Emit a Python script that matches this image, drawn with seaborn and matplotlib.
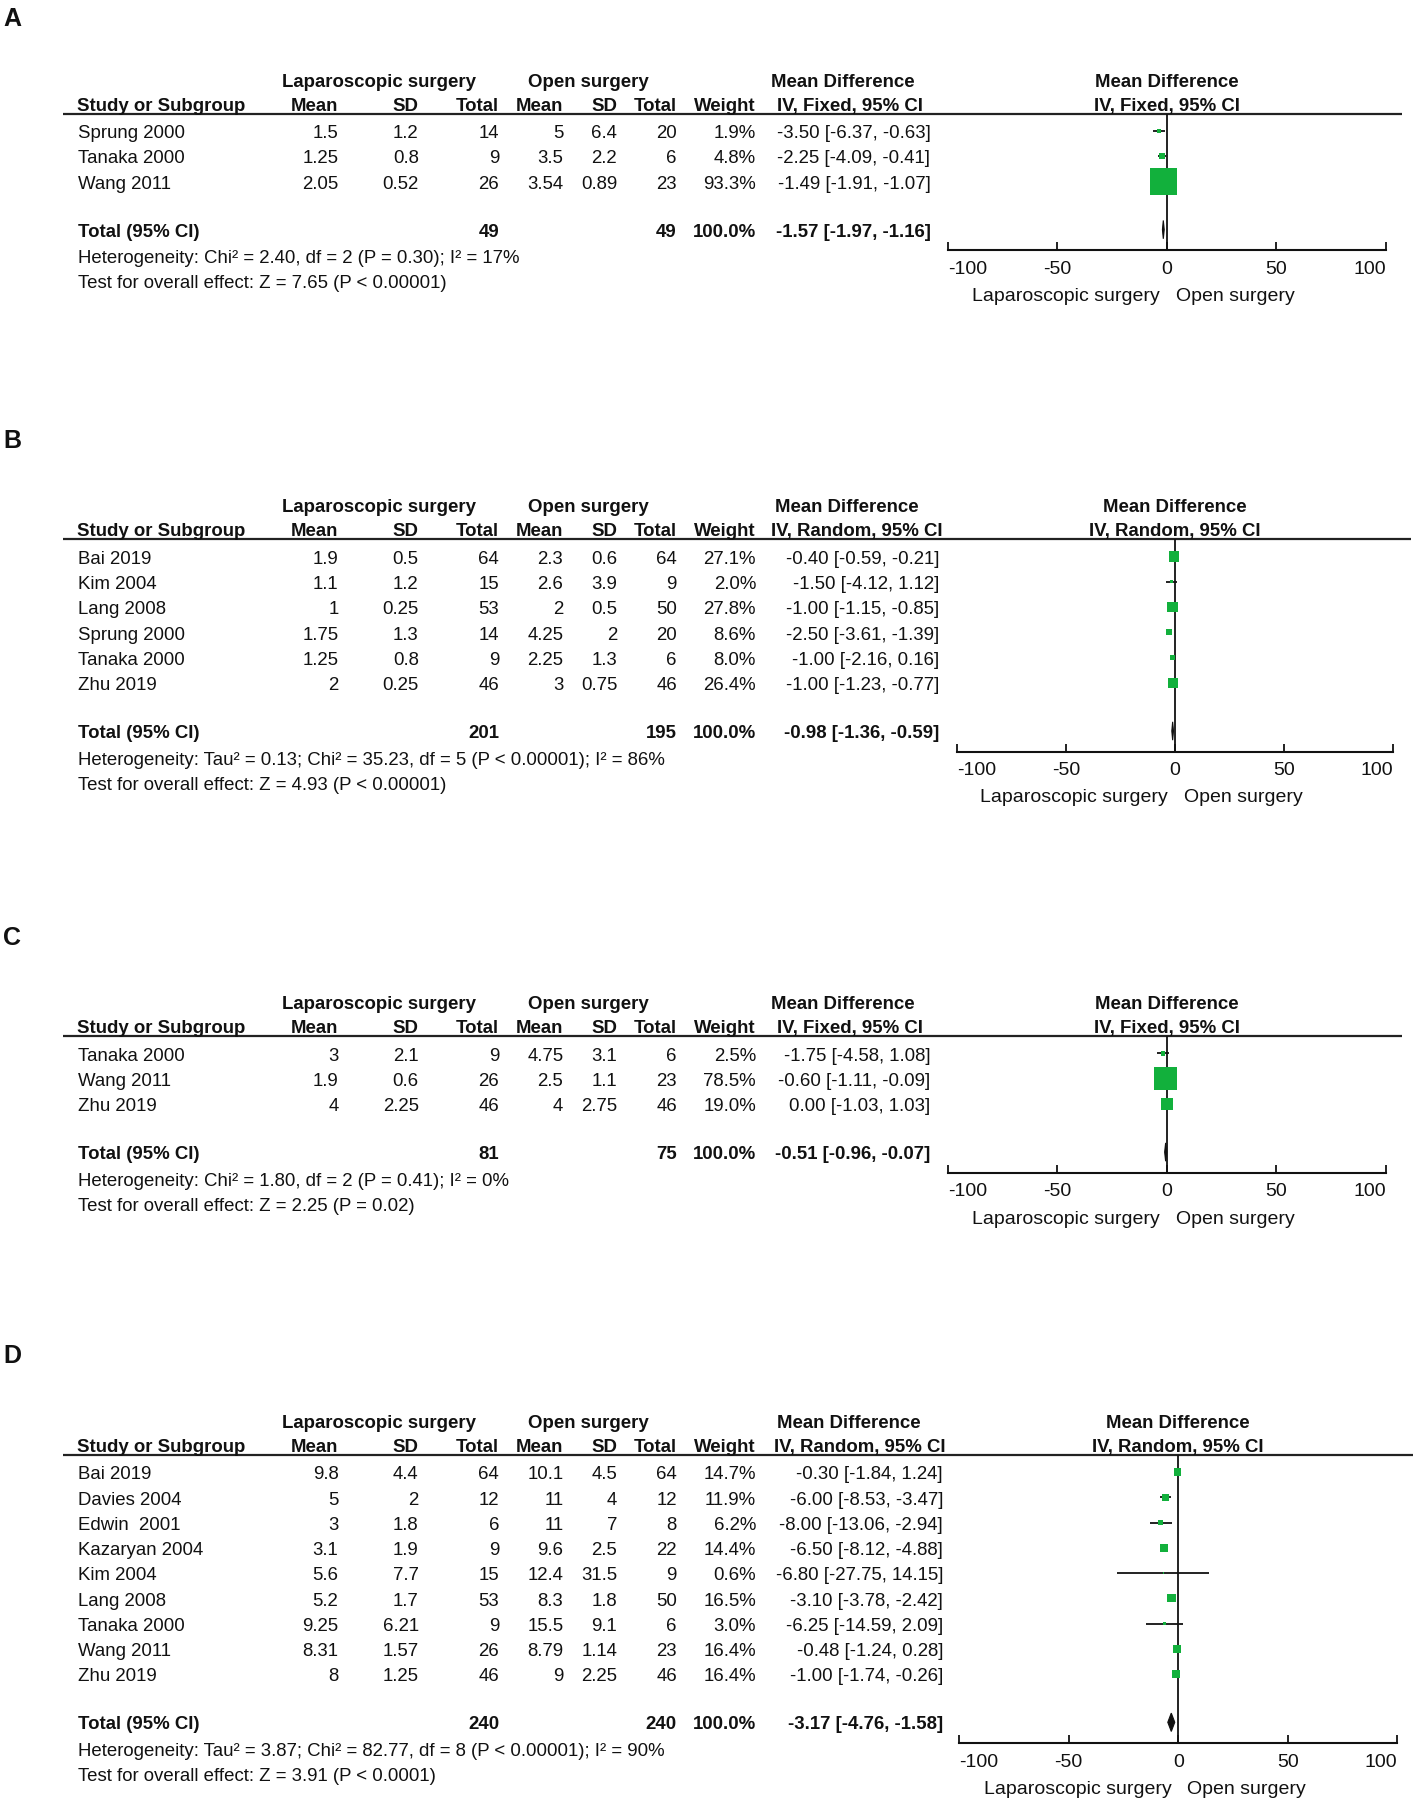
import matplotlib
matplotlib.use("Agg")
import matplotlib.pyplot as plt
import numpy as np
import pandas as pd
import seaborn as sns

sns.set_theme(style="white")
plt.rcParams['font.family'] = ['Liberation Sans', 'DejaVu Sans']

# ---- data: panel A (IV, Fixed) ----
a_study = ["Sprung 2000", "Tanaka 2000", "Wang 2011"]
a_lap_mean = [1.5, 1.25, 2.05]
a_lap_sd = [1.2, 0.8, 0.52]
a_lap_n = [14, 9, 26]
a_open_mean = [5, 3.5, 3.54]
a_open_sd = [6.4, 2.2, 0.89]
a_open_n = [20, 6, 23]
a_weight = [1.9, 4.8, 93.3]
a_md = [-3.50, -2.25, -1.49]
a_lo = [-6.37, -4.09, -1.91]
a_hi = [-0.63, -0.41, -1.07]
a_total = [49, 49, -1.57, -1.97, -1.16]
a_het = "Heterogeneity: Chi² = 2.40, df = 2 (P = 0.30); I² = 17%"
a_test = "Test for overall effect: Z = 7.65 (P < 0.00001)"

# ---- data: panel B (IV, Random) ----
b_study = ["Bai 2019", "Kim 2004", "Lang 2008", "Sprung 2000", "Tanaka 2000", "Zhu 2019"]
b_lap_mean = [1.9, 1.1, 1, 1.75, 1.25, 2]
b_lap_sd = [0.5, 1.2, 0.25, 1.3, 0.8, 0.25]
b_lap_n = [64, 15, 53, 14, 9, 46]
b_open_mean = [2.3, 2.6, 2, 4.25, 2.25, 3]
b_open_sd = [0.6, 3.9, 0.5, 2, 1.3, 0.75]
b_open_n = [64, 9, 50, 20, 6, 46]
b_weight = [27.1, 2.0, 27.8, 8.6, 8.0, 26.4]
b_md = [-0.40, -1.50, -1.00, -2.50, -1.00, -1.00]
b_lo = [-0.59, -4.12, -1.15, -3.61, -2.16, -1.23]
b_hi = [-0.21, 1.12, -0.85, -1.39, 0.16, -0.77]
b_total = [201, 195, -0.98, -1.36, -0.59]
b_het = "Heterogeneity: Tau² = 0.13; Chi² = 35.23, df = 5 (P < 0.00001); I² = 86%"
b_test = "Test for overall effect: Z = 4.93 (P < 0.00001)"

# ---- data: panel C (IV, Fixed) ----
c_study = ["Tanaka 2000", "Wang 2011", "Zhu 2019"]
c_lap_mean = [3, 1.9, 4]
c_lap_sd = [2.1, 0.6, 2.25]
c_lap_n = [9, 26, 46]
c_open_mean = [4.75, 2.5, 4]
c_open_sd = [3.1, 1.1, 2.75]
c_open_n = [6, 23, 46]
c_weight = [2.5, 78.5, 19.0]
c_md = [-1.75, -0.60, 0.00]
c_lo = [-4.58, -1.11, -1.03]
c_hi = [1.08, -0.09, 1.03]
c_total = [81, 75, -0.51, -0.96, -0.07]
c_het = "Heterogeneity: Chi² = 1.80, df = 2 (P = 0.41); I² = 0%"
c_test = "Test for overall effect: Z = 2.25 (P = 0.02)"

# ---- data: panel D (IV, Random) ----
d_study = ["Bai 2019", "Davies 2004", "Edwin  2001", "Kazaryan 2004", "Kim 2004",
           "Lang 2008", "Tanaka 2000", "Wang 2011", "Zhu 2019"]
d_lap_mean = [9.8, 5, 3, 3.1, 5.6, 5.2, 9.25, 8.31, 8]
d_lap_sd = [4.4, 2, 1.8, 1.9, 7.7, 1.7, 6.21, 1.57, 1.25]
d_lap_n = [64, 12, 6, 9, 15, 53, 9, 26, 46]
d_open_mean = [10.1, 11, 11, 9.6, 12.4, 8.3, 15.5, 8.79, 9]
d_open_sd = [4.5, 4, 7, 2.5, 31.5, 1.8, 9.1, 1.14, 2.25]
d_open_n = [64, 12, 8, 22, 9, 50, 6, 23, 46]
d_weight = [14.7, 11.9, 6.2, 14.4, 0.6, 16.5, 3.0, 16.4, 16.4]
d_md = [-0.30, -6.00, -8.00, -6.50, -6.80, -3.10, -6.25, -0.48, -1.00]
d_lo = [-1.84, -8.53, -13.06, -8.12, -27.75, -3.78, -14.59, -1.24, -1.74]
d_hi = [1.24, -3.47, -2.94, -4.88, 14.15, -2.42, 2.09, 0.28, -0.26]
d_total = [240, 240, -3.17, -4.76, -1.58]
d_het = "Heterogeneity: Tau² = 3.87; Chi² = 82.77, df = 8 (P < 0.00001); I² = 90%"
d_test = "Test for overall effect: Z = 3.91 (P < 0.0001)"

group1 = "Laparoscopic surgery"
group2 = "Open surgery"
ticks = [-100, -50, 0, 50, 100]


def make_df(study, m1, s1, n1, m2, s2, n2, w, md, lo, hi):
    return pd.DataFrame(dict(study=study, m1=m1, s1=s1, n1=n1, m2=m2, s2=s2, n2=n2,
                             weight=w, md=md, lo=lo, hi=hi))


panels = [
    dict(tag="A", model="Fixed",
         df=make_df(a_study, a_lap_mean, a_lap_sd, a_lap_n, a_open_mean, a_open_sd, a_open_n,
                    a_weight, a_md, a_lo, a_hi),
         total=a_total, het=a_het, test=a_test,
         label_y=15, top=70, x_lo=826, x_hi=1208, line_r=1222, ci_r=811, ci_c=741, md_c=735, k=420),
    dict(tag="B", model="Random",
         df=make_df(b_study, b_lap_mean, b_lap_sd, b_lap_n, b_open_mean, b_open_sd, b_open_n,
                    b_weight, b_md, b_lo, b_hi),
         total=b_total, het=b_het, test=b_test,
         label_y=383, top=441, x_lo=834, x_hi=1214, line_r=1230, ci_r=819, ci_c=747, md_c=738, k=200),
    dict(tag="C", model="Fixed",
         df=make_df(c_study, c_lap_mean, c_lap_sd, c_lap_n, c_open_mean, c_open_sd, c_open_n,
                    c_weight, c_md, c_lo, c_hi),
         total=c_total, het=c_het, test=c_test,
         label_y=816, top=874, x_lo=826, x_hi=1208, line_r=1222, ci_r=811, ci_c=741, md_c=735, k=370),
    dict(tag="D", model="Random",
         df=make_df(d_study, d_lap_mean, d_lap_sd, d_lap_n, d_open_mean, d_open_sd, d_open_n,
                    d_weight, d_md, d_lo, d_hi),
         total=d_total, het=d_het, test=d_test,
         label_y=1180, top=1239, x_lo=836, x_hi=1218, line_r=1232, ci_r=822, ci_c=749, md_c=740, k=210),
]

W, H = 1236, 1568  # layout units
FS = 13.4
TXT = "#111111"
GREEN = "#12b03c"
DY = 1.5  # text centre sits slightly above glyph centre

fig = plt.figure(figsize=(14.18, 17.99), dpi=100)
bg = fig.add_axes([0, 0, 1, 1])
bg.set_xlim(0, W)
bg.set_ylim(H, 0)
bg.axis("off")


def put(x, y, s, ha="right", bold=False, size=FS):
    bg.text(x, y + DY, s, ha=ha, va="center", fontsize=size, color=TXT,
            fontweight="bold" if bold else "normal")


def ci_text(md, lo, hi):
    return f"{md:.2f} [{lo:.2f}, {hi:.2f}]"


# right edges of the table columns
col_r = dict(m1=295, s1=365, n1=435, m2=491, s2=538, n2=590, weight=659)

for p in panels:
    df = p["df"]
    top = p["top"]
    hdr = top + 21
    line_y = top + 30
    rows = top + 45 + 22 * np.arange(len(df))
    tot_y = rows[-1] + 42
    axis_y = tot_y + 18
    zero_x = p["x_lo"] + (p["x_hi"] - p["x_lo"]) / 2

    put(3, p["label_y"], p["tag"], ha="left", bold=True, size=18)

    # group header row
    put(330, top, group1, ha="center", bold=True)
    put(513, top, group2, ha="center", bold=True)
    put(p["md_c"], top, "Mean Difference", ha="center", bold=True)
    put(zero_x, top, "Mean Difference", ha="center", bold=True)

    # column header row
    put(67, hdr, "Study or Subgroup", ha="left", bold=True)
    for key, name in zip(["m1", "s1", "n1", "m2", "s2", "n2", "weight"],
                         ["Mean", "SD", "Total", "Mean", "SD", "Total", "Weight"]):
        put(col_r[key], hdr, name, bold=True)
    ci_lab = f"IV, {p['model']}, 95% CI"
    put(p["ci_c"], hdr, ci_lab, ha="center", bold=True)
    put(zero_x, hdr, ci_lab, ha="center", bold=True)
    bg.plot([55, p["line_r"]], [line_y, line_y], color="#222222", lw=1.6,
            solid_capstyle="butt")

    # study rows
    for y, r in zip(rows, df.itertuples()):
        put(68, y, r.study, ha="left")
        for key in ["m1", "s1", "n1", "m2", "s2", "n2"]:
            put(col_r[key], y, f"{getattr(r, key):g}")
        put(col_r["weight"], y, f"{r.weight:.1f}%")
        put(p["ci_r"], y, ci_text(r.md, r.lo, r.hi))

    # total row
    n1t, n2t, tmd, tlo, thi = p["total"]
    put(68, tot_y, "Total (95% CI)", ha="left", bold=True)
    put(col_r["n1"], tot_y, f"{n1t}", bold=True)
    put(col_r["n2"], tot_y, f"{n2t}", bold=True)
    put(col_r["weight"], tot_y, "100.0%", bold=True)
    put(p["ci_r"], tot_y, ci_text(tmd, tlo, thi), bold=True)
    put(68, tot_y + 23, p["het"], ha="left")
    put(68, tot_y + 45, p["test"], ha="left")

    # forest plot axes, y in layout units so rows line up with the table
    ax = fig.add_axes([p["x_lo"] / W, 1 - axis_y / H,
                       (p["x_hi"] - p["x_lo"]) / W, (axis_y - line_y) / H])
    ax.patch.set_alpha(0)
    ax.set_xlim(-100, 100)
    ax.set_ylim(axis_y, line_y)
    for side in ["top", "left", "right"]:
        ax.spines[side].set_visible(False)
    ax.spines["bottom"].set_color("#111111")
    ax.spines["bottom"].set_linewidth(1.5)
    ax.axvline(0, color="#111111", lw=1.3, zorder=1)

    plot_df = df.assign(row_y=rows)
    ax.hlines(plot_df["row_y"], plot_df["lo"], plot_df["hi"], color="#111111", lw=1.3, zorder=2)
    sns.scatterplot(data=plot_df, x="md", y="row_y", size="weight", sizes=(0, p["k"]),
                    size_norm=(0, 100), marker="s", color=GREEN, edgecolor="none",
                    linewidth=0, legend=False, zorder=3, ax=ax)
    ax.fill([tlo, tmd, thi, tmd], [tot_y, tot_y - 8, tot_y, tot_y + 8],
            color="#111111", lw=0.8, zorder=3)
    ax.set_xlabel("")
    ax.set_ylabel("")
    ax.set_yticks([])

    ax.set_xticks(ticks)
    ax.set_xticklabels([f"{t}" for t in ticks], fontsize=14, color=TXT)
    ax.tick_params(axis="x", which="major", direction="in", length=6, width=1.3,
                   bottom=True, pad=7, colors="#111111")
    labs = ax.get_xticklabels()
    labs[0].set_ha("left")
    labs[-1].set_ha("right")
    ax.set_xticks([-100, 100], minor=True)
    ax.tick_params(axis="x", which="minor", direction="out", length=3, width=1.3, bottom=True)

    put(zero_x - 6, axis_y + 38, group1, ha="right", size=14)
    put(zero_x + 8, axis_y + 38, group2, ha="left", size=14)

fig.savefig("out.png", dpi=100)
